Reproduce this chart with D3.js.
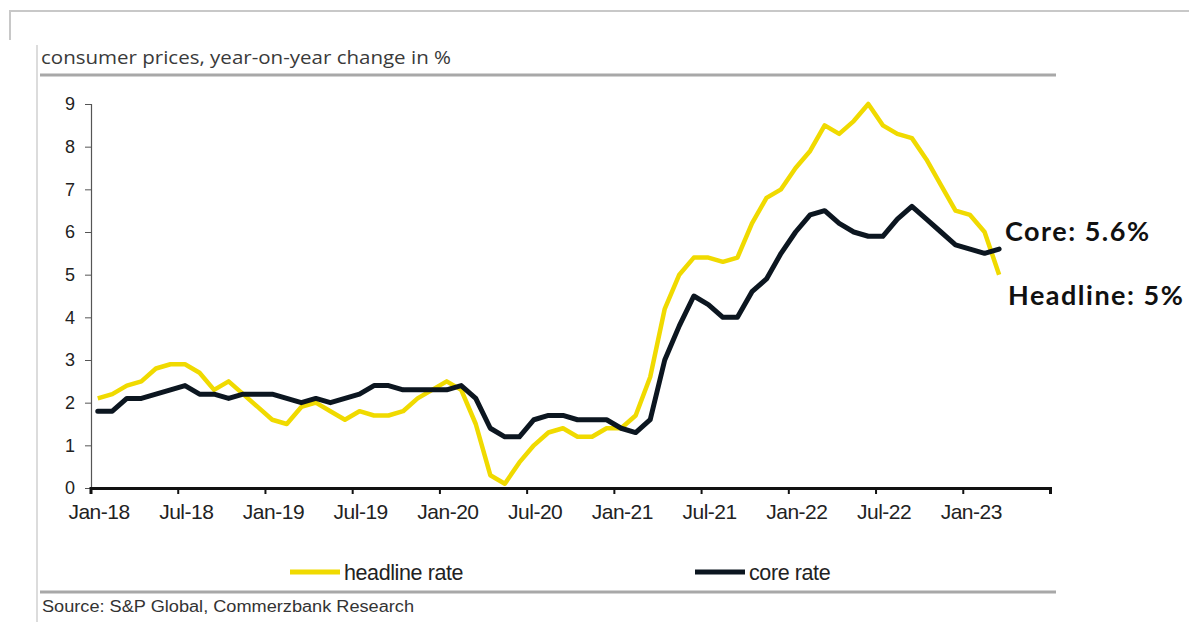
<!DOCTYPE html>
<html>
<head>
<meta charset="utf-8">
<script src="https://cdn.jsdelivr.net/npm/d3@7"></script>
<style>
  body { margin: 0; background: #fff; }
  svg { display: block; }
</style>
</head>
<body>
<svg id="chart" width="1189" height="630"></svg>
<script>
// monthly US CPI, Jan-18 .. Mar-23
var tickLabels = ["Jan-18","Jul-18","Jan-19","Jul-19","Jan-20","Jul-20","Jan-21","Jul-21","Jan-22","Jul-22","Jan-23",""]
var yTicks = [0,1,2,3,4,5,6,7,8,9]

var headline = [
  2.1,2.2,2.4,2.5,2.8,2.9,2.9,2.7,2.3,2.5,2.2,1.9,
  1.6,1.5,1.9,2.0,1.8,1.6,1.8,1.7,1.7,1.8,2.1,2.3,
  2.5,2.3,1.5,0.3,0.1,0.6,1.0,1.3,1.4,1.2,1.2,1.4,
  1.4,1.7,2.6,4.2,5.0,5.4,5.4,5.3,5.4,6.2,6.8,7.0,
  7.5,7.9,8.5,8.3,8.6,9.0,8.5,8.3,8.2,7.7,7.1,6.5,
  6.4,6.0,5.0
]
var core = [
  1.8,1.8,2.1,2.1,2.2,2.3,2.4,2.2,2.2,2.1,2.2,2.2,
  2.2,2.1,2.0,2.1,2.0,2.1,2.2,2.4,2.4,2.3,2.3,2.3,
  2.3,2.4,2.1,1.4,1.2,1.2,1.6,1.7,1.7,1.6,1.6,1.6,
  1.4,1.3,1.6,3.0,3.8,4.5,4.3,4.0,4.0,4.6,4.9,5.5,
  6.0,6.4,6.5,6.2,6.0,5.9,5.9,6.3,6.6,6.3,6.0,5.7,
  5.6,5.5,5.6
]

var svg = d3.select('#chart')

// frame bits
svg.append('line').attr('x1', 10).attr('x2', 1189).attr('y1', 11).attr('y2', 11)
  .style('stroke', '#c8c8c8').style('stroke-width', 2)
svg.append('line').attr('x1', 10).attr('x2', 10).attr('y1', 10).attr('y2', 40)
  .style('stroke', '#c8c8c8').style('stroke-width', 2)
svg.append('line').attr('x1', 37).attr('x2', 37).attr('y1', 45).attr('y2', 622)
  .style('stroke', '#d0d0d0').style('stroke-width', 1.5)
svg.append('line').attr('x1', 40).attr('x2', 1056).attr('y1', 75).attr('y2', 75)
  .style('stroke', '#a8a8a8').style('stroke-width', 3)
svg.append('line').attr('x1', 40).attr('x2', 1056).attr('y1', 592).attr('y2', 592)
  .style('stroke', '#a8a8a8').style('stroke-width', 3)

svg.append('text').attr('x', 41).attr('y', 64)
  .text('consumer prices, year-on-year change in %')
  .attr('textLength', 410).attr('lengthAdjust', 'spacingAndGlyphs')
  .style('font-family', 'Open Sans, sans-serif').style('font-size', '18.5px').style('fill', '#3a3a3a')

svg.append('text').attr('x', 42).attr('y', 612)
  .text('Source: S&P Global, Commerzbank Research')
  .attr('textLength', 372).attr('lengthAdjust', 'spacingAndGlyphs')
  .style('font-family', 'Liberation Sans, Arial, sans-serif').style('font-size', '16px').style('fill', '#333')

var x = d3.scaleLinear().domain([0, 66]).range([90.5, 1050])
var y = d3.scaleLinear().domain([0, 9]).range([488, 104])

// y axis
var yAxis = svg.append('g').attr('transform', 'translate(91,0)')
  .call(d3.axisLeft(y).tickValues(yTicks).tickSize(6).tickPadding(10).tickFormat(d3.format('d')))
yAxis.select('.domain').style('stroke', '#555').style('stroke-width', 1.2)
yAxis.selectAll('.tick line').style('stroke', '#555')
yAxis.selectAll('text').style('font-family', 'Liberation Sans, Arial, sans-serif')
  .style('font-size', '18px').style('fill', '#222')

// x axis
var xAxis = svg.append('g').attr('transform', 'translate(0,488)')
  .call(d3.axisBottom(x).tickValues(d3.range(0, 67, 6)).tickSize(6).tickPadding(10)
    .tickFormat(function(d, i){ return tickLabels[i] }))
xAxis.select('.domain').style('stroke', '#111').style('stroke-width', 3)
xAxis.selectAll('.tick line').style('stroke', '#111').style('stroke-width', 2)
xAxis.selectAll('text')
  .attr('dx', 8)
  .style('font-family', 'Liberation Sans, Arial, sans-serif')
  .style('font-size', '21px').style('letter-spacing', '-0.5px').style('fill', '#222')

// lines
var line = d3.line()
  .x(function(d, i){ return x(i + 0.5) })
  .y(function(d){ return y(d) })

svg.append('path').datum(headline).attr('d', line)
  .style('fill', 'none').style('stroke', '#f0da00').style('stroke-width', 4.5)
  .style('stroke-linejoin', 'round')

svg.append('path').datum(core).attr('d', line)
  .style('fill', 'none').style('stroke', '#0c1620').style('stroke-width', 5)
  .style('stroke-linejoin', 'round').style('stroke-linecap', 'round')

// legend
var legend = [
  { name: 'headline rate', color: '#f0da00', x: 290 },
  { name: 'core rate', color: '#0c1620', x: 695 }
]
var lg = svg.selectAll('.legend').data(legend).enter().append('g').attr('class', 'legend')
lg.append('line')
  .attr('x1', function(d){ return d.x }).attr('x2', function(d){ return d.x + 50 })
  .attr('y1', 572).attr('y2', 572)
  .style('stroke', function(d){ return d.color }).style('stroke-width', 5)
lg.append('text')
  .attr('x', function(d){ return d.x + 54 }).attr('y', 580)
  .text(function(d){ return d.name })
  .style('font-family', 'Liberation Sans, Arial, sans-serif')
  .style('font-size', '21.5px').style('letter-spacing', '-0.4px').style('fill', '#222')

// end labels
svg.append('text').attr('x', 1005).attr('y', 241)
  .text('Core: ' + core[core.length - 1].toFixed(1) + '%')
  .style('font-family', 'Lato, sans-serif').style('font-weight', 700)
  .style('font-size', '27px').style('letter-spacing', '1.5px').style('fill', '#111')
svg.append('text').attr('x', 1008).attr('y', 305)
  .text('Headline: ' + headline[headline.length - 1] + '%')
  .style('font-family', 'Lato, sans-serif').style('font-weight', 700)
  .style('font-size', '27px').style('letter-spacing', '1.5px').style('fill', '#111')
</script>
</body>
</html>
